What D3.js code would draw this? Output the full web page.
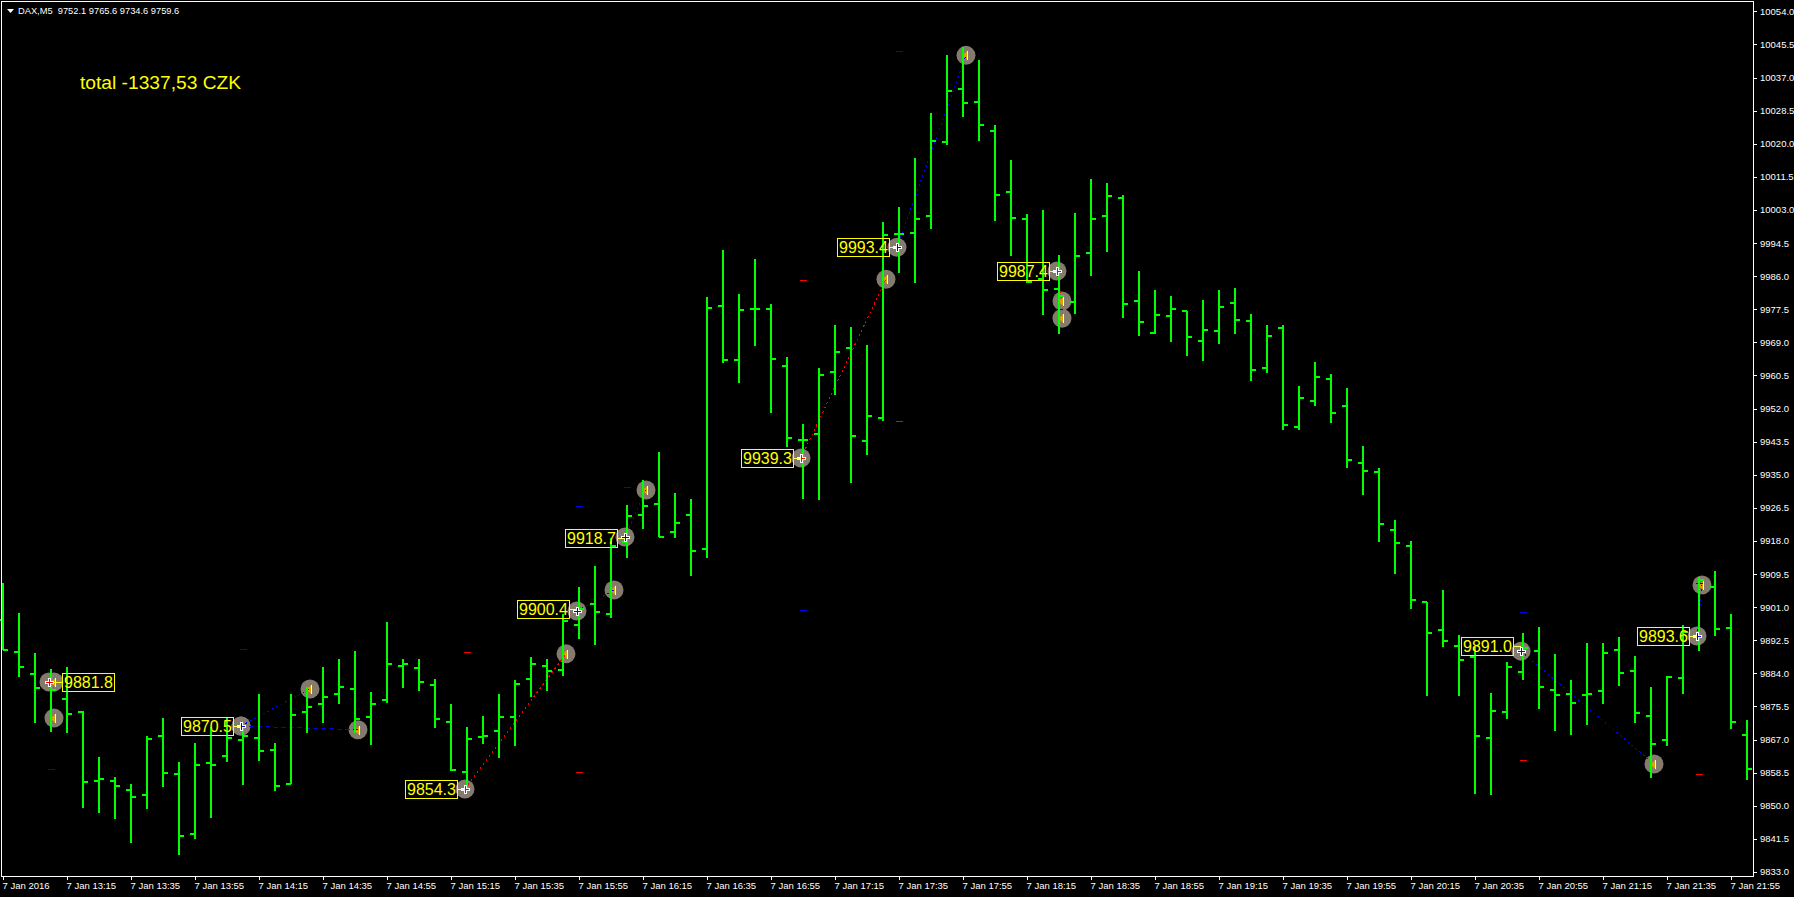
<!DOCTYPE html>
<html>
<head>
<meta charset="utf-8">
<style>html,body{margin:0;padding:0;background:#000;overflow:hidden}svg{display:block}</style>
<script src="https://cdn.jsdelivr.net/npm/d3@7/dist/d3.min.js"></script>
</head>
<body>
<svg id="chart" width="1794" height="897"></svg>
<script>
const opens=[9897.7,9889.5,9883.8,9881.8,9877.4,9874.1,9856.4,9856.4,9854.1,9852.8,
9867.9,9858.2,9842.7,9861.0,9862.8,9866.9,9867.4,9864.3,9855.6,9874.1,
9876.1,9878.7,9880.0,9872.8,9877.2,9885.9,9885.4,9881.0,9871.5,9858.7,
9867.7,9869.2,9872.8,9882.6,9885.9,9884.9,9896.4,9901.8,9899.2,9917.7,
9924.6,9927.5,9920.3,9924.6,9915.9,9978.3,9964.4,9977.5,9977.5,9962.9,
9943.9,9945.4,9961.4,9967.5,9943.6,9949.5,9996.8,9997.0,10001.4,10020.4,
10034.0,10030.6,10023.2,10007.5,10000.6,9985.2,9982.6,9979.3,9991.9,10001.4,
10006.0,9979.6,9971.3,9975.7,9977.0,9969.3,9971.9,9979.0,9974.4,9962.4,
9972.6,9947.2,9953.9,9959.5,9952.6,9938.0,9935.7,9920.8,9916.7,9902.3,
9895.1,9891.0,9888.2,9867.4,9874.1,9884.3,9889.7,9879.7,9878.7,9878.4,
9879.5,9890.0,9884.6,9873.0,9866.9,9882.8,9893.6,9906.2,9895.6,9868.2];
const highs=[9907.2,9899.5,9889.2,9885.1,9885.6,9874.3,9862.5,9857.4,9855.6,9867.9,
9872.5,9861.2,9866.1,9870.2,9872.8,9871.3,9878.7,9866.1,9878.7,9880.5,
9885.6,9887.7,9889.7,9879.2,9897.2,9887.7,9887.7,9882.6,9876.1,9870.2,
9873.0,9878.7,9882.3,9888.2,9887.7,9899.2,9906.2,9911.5,9918.7,9927.2,
9933.6,9940.8,9930.3,9928.7,9980.6,9992.7,9981.4,9990.3,9978.8,9965.2,
9948.0,9962.4,9973.4,9972.9,9968.3,9999.8,10003.7,10016.3,10027.8,10042.9,
10044.8,10041.4,10024.7,10015.8,10001.9,10002.9,9991.4,10002.2,10010.9,10009.8,
10006.8,9987.3,9982.4,9980.8,9977.0,9979.8,9982.4,9982.9,9976.2,9973.4,
9973.4,9957.7,9963.9,9960.8,9957.2,9942.3,9936.7,9923.3,9917.9,9902.3,
9905.4,9893.8,9890.8,9879.0,9886.9,9894.3,9895.9,9889.0,9882.3,9891.8,
9891.8,9893.3,9888.4,9880.5,9883.3,9896.4,9908.7,9910.3,9899.2,9872.0];
const lows=[9890.0,9883.1,9871.3,9868.9,9868.7,9849.4,9848.1,9846.6,9840.4,9849.2,
9854.8,9837.3,9841.4,9846.8,9861.2,9855.3,9861.5,9853.8,9855.6,9868.7,
9871.3,9876.1,9868.7,9865.6,9876.4,9880.2,9879.5,9870.0,9858.9,9854.1,
9865.9,9862.3,9865.3,9877.9,9879.5,9883.3,9892.8,9891.3,9898.2,9913.6,
9921.0,9919.0,9918.7,9909.0,9913.6,9963.7,9958.5,9968.0,9950.8,9942.1,
9928.7,9928.5,9955.5,9932.8,9940.0,9948.7,9986.8,9984.2,9998.0,10019.6,
10026.8,10020.6,10000.1,9991.1,9984.2,9976.0,9971.1,9976.2,9986.0,9992.1,
9975.2,9970.6,9971.1,9969.0,9965.4,9964.2,9968.5,9971.1,9959.0,9961.1,
9946.5,9946.5,9952.6,9948.3,9936.7,9929.8,9917.7,9909.5,9900.5,9878.2,
9890.8,9878.2,9853.0,9852.8,9872.3,9882.3,9874.8,9869.2,9868.2,9870.7,
9876.1,9880.8,9871.3,9857.1,9865.3,9878.7,9889.7,9893.6,9869.7,9856.6];
const closes=[9890.0,9885.6,9880.2,9879.7,9873.6,9856.1,9856.9,9855.1,9852.3,9867.1,
9858.4,9842.2,9860.5,9860.5,9867.4,9867.9,9864.1,9855.1,9873.3,9875.4,
9877.9,9880.5,9872.3,9876.1,9886.4,9886.4,9881.8,9872.3,9859.2,9867.1,
9867.9,9872.8,9881.3,9886.4,9884.6,9897.4,9900.5,9899.7,9916.7,9924.4,
9927.0,9919.0,9922.7,9915.4,9977.8,9964.4,9977.3,9977.5,9964.7,9944.4,
9943.9,9960.6,9966.5,9945.0,9950.0,9996.5,9996.8,10000.6,10020.6,10033.5,
10030.4,10024.7,10006.8,10000.9,9984.4,9982.4,9980.8,9991.1,10000.6,10006.5,
9978.8,9974.2,9976.0,9977.5,9970.3,9972.1,9978.0,9974.7,9961.8,9970.6,
9947.7,9954.7,9960.1,9950.8,9938.8,9935.9,9922.3,9917.5,9902.8,9894.3,
9892.3,9887.4,9867.9,9874.3,9885.6,9890.5,9880.5,9878.4,9876.4,9878.7,
9889.2,9884.1,9873.8,9865.9,9883.1,9894.6,9907.9,9895.4,9871.5,9859.4];

const priceTicks=[10054,10045.5,10037,10028.5,10020,10011.5,10003,9994.5,9986,9977.5,9969,9960.5,9952,9943.5,9935,9926.5,9918,9909.5,9901,9892.5,9884,9875.5,9867,9858.5,9850,9841.5,9833];
const timeLabels=["7 Jan 2016","7 Jan 13:15","7 Jan 13:35","7 Jan 13:55","7 Jan 14:15","7 Jan 14:35","7 Jan 14:55","7 Jan 15:15","7 Jan 15:35","7 Jan 15:55","7 Jan 16:15","7 Jan 16:35","7 Jan 16:55","7 Jan 17:15","7 Jan 17:35","7 Jan 17:55","7 Jan 18:15","7 Jan 18:35","7 Jan 18:55","7 Jan 19:15","7 Jan 19:35","7 Jan 19:55","7 Jan 20:15","7 Jan 20:35","7 Jan 20:55","7 Jan 21:15","7 Jan 21:35","7 Jan 21:55"];

const entryBars=[3,15,15,29,36,39,50,56,66,95,106];
const entryPrices=[9881.8,9870.5,9870.5,9854.3,9900.0,9919.0,9939.3,9993.4,9987.3,9889.7,9893.6];
const entryKinds=["sell","buy","buy","sell","buy","buy","sell","buy","sell","buy","buy"];
const labelTexts=["9881.8","9870.5","","9854.3","9900.4","9918.7","9939.3","9993.4","9987.4","9891.0","9893.6"];
const exitBars=[3,19,22,35,38,40,55,60,66,103,106];
const exitPrices=[9881.8,9880.0,9869.5,9889.0,9905.4,9931.1,9985.2,10042.7,9979.6,9860.7,9906.7];
const extraExitBars=[3,66];
const extraExitPrices=[9872.5,9975.2];
const levelBars=[3,15,29,36,36,39,50,50,56,56,66,95,95,106,106];
const levelPrices=[9859.4,9890.2,9889.5,9927.0,9858.7,9931.8,9900.3,9984.9,9948.9,10043.7,9977.5,9899.7,9861.8,9907.2,9858.2];
const levelKinds=["buy","buy","sell","buy","sell","buy","buy","sell","sell","buy","buy","buy","sell","buy","sell"];

const W=1794,H=897,plotLeft=2,plotRight=1754,plotTop=2,plotBottom=877;
const barStep=16,firstBarX=3;
const x=d3.scaleLinear().domain([0,1]).range([firstBarX,firstBarX+barStep]);
const y=d3.scaleLinear().domain([9831.7,10056.4]).range([plotBottom,plotTop]);
const GREEN="#00ff00",YEL="#ffff00",WHITE="#ffffff",GREY="#857a6e",ORANGE="#e0a000";
const kindColor={sell:"#ff0000",buy:"#0000ff"};
const AXIS='"Liberation Sans",Arial,sans-serif';

const svg=d3.select("#chart");
svg.append("rect").attr("width",W).attr("height",H).attr("fill","#000");

const px=v=>Math.round(v);

const circles=svg.append("g");
const entryDX=-2,exitDX=3,R=9.5;
const allExits=exitBars.map((b,i)=>({b,p:exitPrices[i]})).concat(extraExitBars.map((b,i)=>({b,p:extraExitPrices[i]})));
const allEntries=entryBars.map((b,i)=>({b,p:entryPrices[i]}));
circles.selectAll("circle").data(allEntries.concat(allExits)).join("circle")
 .attr("cx",d=>x(d.b)+(allEntries.includes(d)?entryDX:exitDX)).attr("cy",d=>y(d.p)).attr("r",R).attr("fill",GREY);

const arrows=svg.append("g");
allExits.forEach(d=>{
  const cx=px(x(d.b)+exitDX),cy=px(y(d.p))+.5;
  arrows.append("path").attr("d",`M${cx-4},${cy} L${cx+1.5},${cy-4.5} L${cx+1.5},${cy+4.5} Z`).attr("fill",ORANGE);
  arrows.append("rect").attr("shape-rendering","crispEdges").attr("x",cx+1).attr("y",cy-4.5).attr("width",1).attr("height",9).attr("fill",WHITE);
});

const pairs=entryBars.map((b,i)=>({x1:x(b)+entryDX,y1:y(entryPrices[i]),x2:x(exitBars[i])+exitDX,y2:y(exitPrices[i]),k:entryKinds[i],long:i===2}));
svg.append("g").attr("shape-rendering","crispEdges").selectAll("line").data(pairs).join("line")
 .attr("x1",d=>d.x1).attr("y1",d=>d.y1).attr("x2",d=>d.x2).attr("y2",d=>d.y2)
 .attr("stroke",d=>kindColor[d.k]).attr("stroke-width",1).attr("stroke-dasharray",d=>d.long?"5,3":"2,3");

svg.append("g").attr("shape-rendering","crispEdges").selectAll("rect")
 .data(levelBars.map((b,i)=>({b,p:levelPrices[i],k:levelKinds[i]}))).join("rect")
 .attr("x",d=>x(d.b)-3).attr("y",d=>px(y(d.p))).attr("width",7).attr("height",1).attr("fill",d=>kindColor[d.k]);

const bars=d3.range(opens.length);
const gb=svg.append("g").attr("shape-rendering","crispEdges").attr("fill",GREEN);
gb.selectAll("rect.hl").data(bars).join("rect").attr("class","hl")
 .attr("x",i=>x(i)-1).attr("y",i=>px(y(highs[i]))).attr("width",2).attr("height",i=>Math.max(1,px(y(lows[i]))-px(y(highs[i]))));
gb.selectAll("rect.o").data(bars).join("rect").attr("class","o")
 .attr("x",i=>x(i)-5).attr("y",i=>px(y(opens[i]))-1).attr("width",5).attr("height",2);
gb.selectAll("rect.c").data(bars).join("rect").attr("class","c")
 .attr("x",i=>x(i)).attr("y",i=>px(y(closes[i]))-1).attr("width",5).attr("height",2);

const crosses=svg.append("g").attr("shape-rendering","crispEdges");
entryBars.forEach((b,i)=>{
  if(!labelTexts[i])return;
  const cx=px(x(b)+entryDX),cy=px(y(entryPrices[i]));
  const c=kindColor[entryKinds[i]];
  crosses.append("path").attr("d",`M${cx-4},${cy-1}h3v-3h3v3h3v3h-3v3h-3v-3h-3z`).attr("fill",WHITE);
  crosses.append("path").attr("d",`M${cx-3},${cy}h3v-3h1v3h3v1h-3v3h-1v-3h-3z`).attr("fill",c);
});

const lab=svg.append("g");
entryBars.forEach((b,i)=>{
  const t=labelTexts[i]; if(!t)return;
  const onRight=i===0;
  const cy=px(y(+t));
  const cx=x(b)+entryDX;
  const bx=onRight?cx+13:cx-60;
  lab.append("line").attr("shape-rendering","crispEdges").attr("y1",cy+.5).attr("y2",cy+.5)
    .attr("x1",onRight?cx+4:bx+52).attr("x2",onRight?bx:cx).attr("stroke",onRight?YEL:"#ffff66");
  lab.append("rect").attr("shape-rendering","crispEdges").attr("x",bx+.5).attr("y",cy-9+.5).attr("width",52).attr("height",18)
    .attr("fill","none").attr("stroke",YEL);
  lab.append("text").attr("x",bx+2).attr("y",cy+6).attr("fill",YEL).attr("font-family",AXIS).attr("font-size",16).text(t);
});

svg.append("rect").attr("shape-rendering","crispEdges").attr("x",plotLeft-.5).attr("y",plotTop-.5).attr("width",plotRight-plotLeft).attr("height",plotBottom-plotTop).attr("fill","none").attr("stroke",WHITE).attr("stroke-width",1);

const yAxis=d3.axisRight(y).tickValues(priceTicks).tickSize(3).tickPadding(3).tickFormat(d3.format(".1f"));
const gy=svg.append("g").attr("transform",`translate(${plotRight},0)`).call(yAxis);
gy.select(".domain").remove();
gy.selectAll("line").attr("stroke",WHITE).attr("shape-rendering","crispEdges");
gy.selectAll("text").attr("fill",WHITE).attr("font-family",AXIS).attr("font-size",9.5);

const tickBars=timeLabels.map((_,i)=>i*4);
const xAxis=d3.axisBottom(x).tickValues(tickBars).tickSize(3).tickPadding(2).tickFormat((d,i)=>timeLabels[i]);
const gx=svg.append("g").attr("transform",`translate(0,${plotBottom})`).call(xAxis);
gx.select(".domain").remove();
gx.selectAll("line").attr("stroke",WHITE).attr("shape-rendering","crispEdges");
gx.selectAll("text").attr("fill",WHITE).attr("font-family",AXIS).attr("font-size",9.5).attr("text-anchor","start").attr("dx",-1);

svg.append("path").attr("d","M7,9 L14,9 L10.5,13 Z").attr("fill",WHITE);
svg.append("text").attr("x",18).attr("y",13.5).attr("fill",WHITE).attr("font-family",AXIS).attr("font-size",9.3).style("white-space","pre").text("DAX,M5  9752.1 9765.6 9734.6 9759.6");
svg.append("text").attr("x",80).attr("y",89).attr("fill",YEL).attr("font-family",AXIS).attr("font-size",19.2).text("total -1337,53 CZK");
</script>
</body>
</html>
